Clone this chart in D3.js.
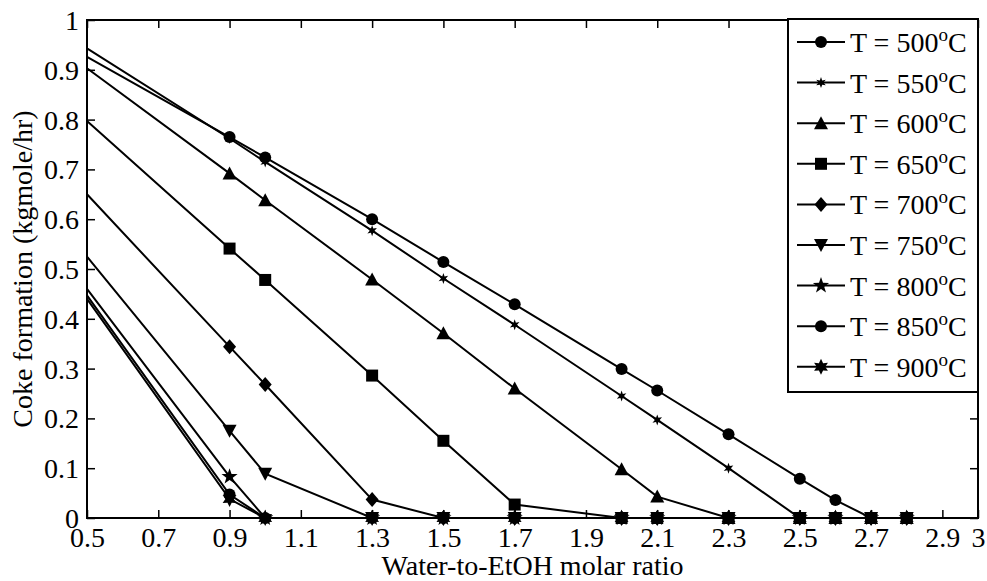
<!DOCTYPE html>
<html>
<head>
<meta charset="utf-8">
<script src="https://cdn.jsdelivr.net/npm/d3@7"></script>
<style>
  body { margin: 0; background: #fff; }
</style>
</head>
<body>
<div id="chartArea"></div>
<script>
// water-to-EtOH ratios where the simulation was sampled (0.5 = left edge of the axis)
const ratios = [0.5, 0.9, 1.0, 1.3, 1.5, 1.7, 2.0, 2.1, 2.3, 2.5, 2.6, 2.7, 2.8];

const coke500 = [0.926, 0.765, 0.724, 0.600, 0.514, 0.429, 0.299, 0.256, 0.168, 0.079, 0.036, 0, 0];
const coke550 = [0.943, 0.762, 0.715, 0.577, 0.481, 0.388, 0.245, 0.197, 0.100, 0, 0, 0, 0];
const coke600 = [0.903, 0.692, 0.638, 0.479, 0.371, 0.260, 0.098, 0.043, 0, 0, 0, 0, 0];
const coke650 = [0.797, 0.541, 0.478, 0.286, 0.155, 0.027, 0, 0, 0, 0, 0, 0, 0];
const coke700 = [0.650, 0.344, 0.268, 0.037, 0, 0, 0, 0, 0, 0, 0, 0, 0];
const coke750 = [0.525, 0.175, 0.089, 0, 0, 0, 0, 0, 0, 0, 0, 0, 0];
const coke800 = [0.460, 0.083, 0, 0, 0, 0, 0, 0, 0, 0, 0, 0, 0];
const coke850 = [0.447, 0.047, 0, 0, 0, 0, 0, 0, 0, 0, 0, 0, 0];
const coke900 = [0.440, 0.038, 0, 0, 0, 0, 0, 0, 0, 0, 0, 0, 0];

const temps = [500, 550, 600, 650, 700, 750, 800, 850, 900];
const markers = ["circle", "asterisk", "triangle", "square", "diamond", "triangleDown", "pentagram", "circle", "hexagram"];

const xTicks = [0.5, 0.7, 0.9, 1.1, 1.3, 1.5, 1.7, 1.9, 2.1, 2.3, 2.5, 2.7, 2.9, 3];
const yTicks = [0, 0.1, 0.2, 0.3, 0.4, 0.5, 0.6, 0.7, 0.8, 0.9, 1];

const seriesValues = [coke500, coke550, coke600, coke650, coke700, coke750, coke800, coke850, coke900];
const series = temps.map((t, i) => ({
  temp: t,
  marker: markers[i],
  points: ratios.map((r, j) => ({ x: r, y: seriesValues[i][j] }))
}));

const FONT = "'Liberation Serif', 'Times New Roman', Times, 'DejaVu Serif', serif";
const W = 987, H = 581;
const margin = { left: 87, right: 978, top: 20, bottom: 518 };

const svg = d3.select("#chartArea")
  .append("svg")
  .attr("width", W)
  .attr("height", H);

const xScale = d3.scaleLinear().domain([0.5, 3]).range([margin.left, margin.right]);
const yScale = d3.scaleLinear().domain([0, 1]).range([margin.bottom, margin.top]);

// marker paths centred on 0,0
function starPath(n, R, r) {
  const pts = [];
  for (let k = 0; k < 2 * n; k++) {
    const a = -Math.PI / 2 + k * Math.PI / n;
    const rad = k % 2 === 0 ? R : r;
    pts.push([rad * Math.cos(a), rad * Math.sin(a)]);
  }
  return "M" + pts.map(p => p[0].toFixed(2) + "," + p[1].toFixed(2)).join("L") + "Z";
}
function markerPath(type) {
  switch (type) {
    case "circle": return d3.symbol().type(d3.symbolCircle).size(Math.PI * 36)();
    case "square": return "M-6,-6H6V6H-6Z";
    case "diamond": return "M0,-7.5L6.5,0L0,7.5L-6.5,0Z";
    case "triangle": return "M0,-7L7,6L-7,6Z";
    case "triangleDown": return "M0,7L7,-6L-7,-6Z";
    case "pentagram": return starPath(5, 8.5, 3.4);
    case "hexagram": return starPath(6, 8, 4.2);
    case "asterisk": return starPath(6, 5.5, 2.4);
  }
}

// axes (ticks point inwards, MATLAB style box)
const xAxis = d3.axisBottom(xScale).tickValues(xTicks).tickSizeInner(-8).tickSizeOuter(0)
  .tickFormat(d => d === 3 ? "3" : d3.format(".1f")(d));
const gx = svg.append("g").attr("class", "x axis")
  .attr("transform", "translate(0," + margin.bottom + ")")
  .call(xAxis);
gx.selectAll("text").attr("y", 28.5).attr("dy", null);

const yAxis = d3.axisLeft(yScale).tickValues(yTicks).tickSizeInner(-8).tickSizeOuter(0)
  .tickFormat(d => d === 0 ? "0" : d === 1 ? "1" : d3.format(".1f")(d));
const gy = svg.append("g").attr("class", "y axis")
  .attr("transform", "translate(" + margin.left + ",0)")
  .call(yAxis);
gy.selectAll("text").attr("x", -8).attr("dy", "0.34em");

svg.append("g").attr("transform", "translate(0," + margin.top + ")")
  .call(d3.axisTop(xScale).tickValues(xTicks).tickSizeInner(-8).tickSizeOuter(0).tickFormat(""));
svg.append("g").attr("transform", "translate(" + margin.right + ",0)")
  .call(d3.axisRight(yScale).tickValues(yTicks).tickSizeInner(-8).tickSizeOuter(0).tickFormat(""));

svg.selectAll(".domain").remove();
svg.selectAll(".tick line").attr("stroke", "#000").attr("stroke-width", 1.5);

svg.append("rect")
  .attr("x", margin.left).attr("y", margin.top)
  .attr("width", margin.right - margin.left).attr("height", margin.bottom - margin.top)
  .attr("fill", "none").attr("stroke", "#000").attr("stroke-width", 2);

// series
const line = d3.line().x(d => xScale(d.x)).y(d => yScale(d.y));
series.forEach(s => {
  const g = svg.append("g").attr("class", "series");
  g.append("path")
    .datum(s.points)
    .attr("d", line)
    .attr("fill", "none")
    .attr("stroke", "#000")
    .attr("stroke-width", 2);
  g.selectAll("path.mk")
    .data(s.points.filter(d => d.x > 0.5))
    .enter()
    .append("path")
    .attr("class", "mk")
    .attr("d", markerPath(s.marker))
    .attr("transform", d => "translate(" + xScale(d.x) + "," + yScale(d.y) + ")")
    .attr("fill", "#000");
});

// axis titles
svg.append("text")
  .attr("x", (margin.left + margin.right) / 2).attr("y", 575)
  .attr("text-anchor", "middle")
  .text("Water-to-EtOH molar ratio");
svg.append("text")
  .attr("transform", "translate(32," + (margin.top + margin.bottom) / 2 + ") rotate(-90)")
  .attr("text-anchor", "middle")
  .text("Coke formation (kgmole/hr)");

// legend
const lg = svg.append("g").attr("class", "legend");
lg.append("rect")
  .attr("x", 788).attr("y", 19).attr("width", margin.right - 788).attr("height", 373)
  .attr("fill", "#fff").attr("stroke", "#000").attr("stroke-width", 2);
const rows = lg.selectAll("g.row").data(series).enter().append("g")
  .attr("class", "row")
  .attr("transform", (d, i) => "translate(0," + (42 + i * 40.6) + ")");
rows.append("line").attr("x1", 797).attr("x2", 845).attr("y1", 0).attr("y2", 0)
  .attr("stroke", "#000").attr("stroke-width", 2);
rows.append("path").attr("d", d => markerPath(d.marker))
  .attr("transform", "translate(821,0)").attr("fill", "#000");
const lt = rows.append("text").attr("x", 850).attr("y", 10);
lt.append("tspan").text(d => "T = " + d.temp);
lt.append("tspan").attr("class", "sup").attr("dy", -11).text("o");
lt.append("tspan").attr("dy", 11).text("C");

// serif type everywhere, set inline so it wins over the axis defaults
svg.selectAll("text")
  .style("font-family", FONT)
  .style("font-size", "28px")
  .attr("fill", "#000");
svg.selectAll("tspan.sup").style("font-size", "19px");
</script>
</body>
</html>
